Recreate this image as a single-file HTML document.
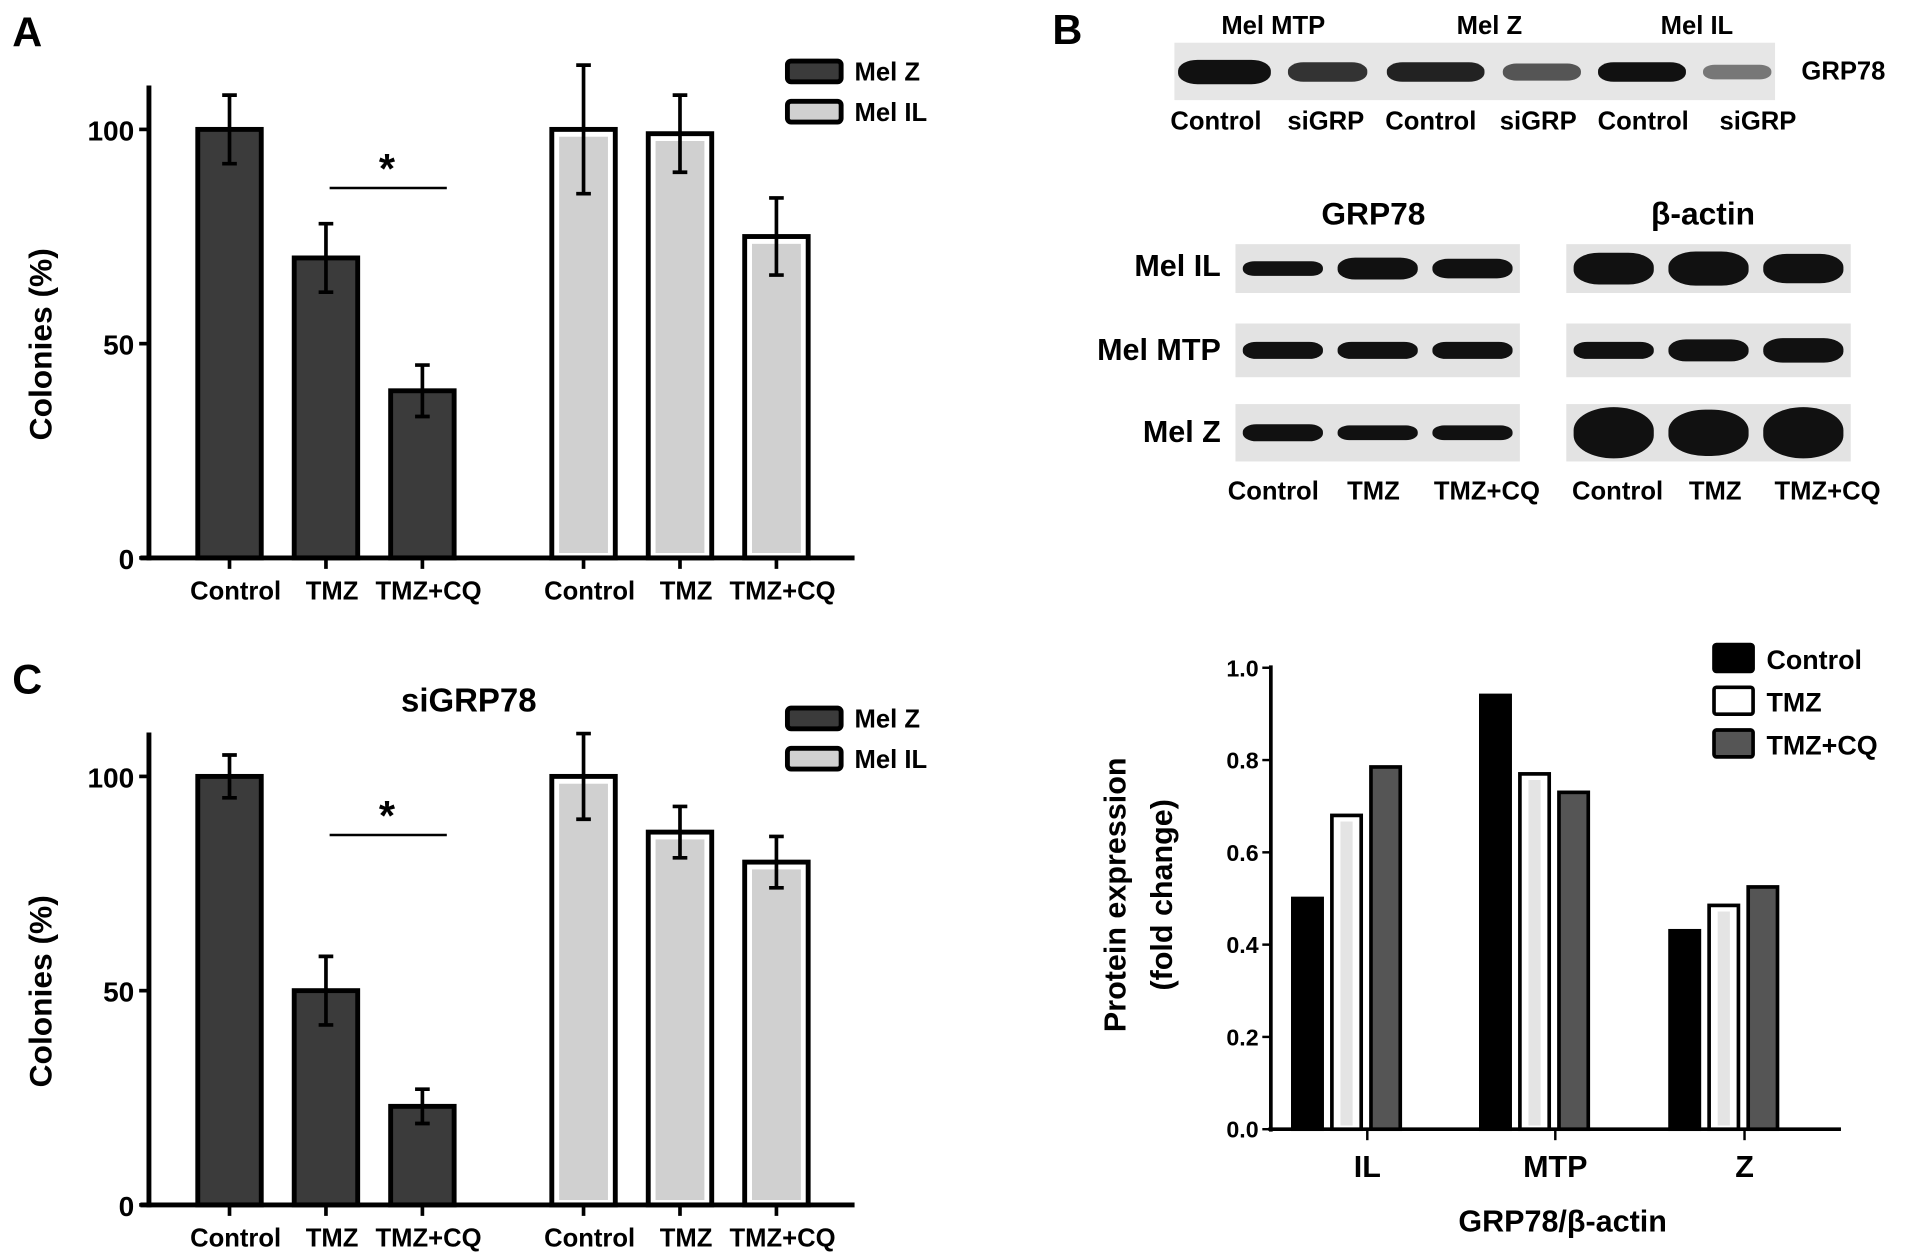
<!DOCTYPE html>
<html><head><meta charset="utf-8"><style>
html,body{margin:0;padding:0;background:#fff;}
svg{display:block;font-family:"Liberation Sans",Arial,sans-serif;font-weight:bold;}
</style></head><body>
<svg id="fig" width="1913" height="1258" viewBox="0 0 1567 1030.5" preserveAspectRatio="none" xmlns="http://www.w3.org/2000/svg">
<rect width="1567" height="1031" fill="#fff"/>
<g id="pa"></g>
<g id="pc"></g>
<g id="pb"></g>
<g id="pd"></g>
</svg>
<script>
const colonyCategories = ["Control","TMZ","TMZ+CQ"];
const aMelZ = [100,70,39];
const aMelZErr = [8,8,6];
const aMelIL = [100,99,75];
const aMelILErr = [15,9,9];
const cMelZ = [100,50,23];
const cMelZErr = [5,8,4];
const cMelIL = [100,87,80];
const cMelILErr = [10,6,6];
const colonyTicks = [0,50,100];
const dCategories = ["IL","MTP","Z"];
const dControl = [0.50,0.94,0.43];
const dTMZ = [0.68,0.77,0.485];
const dTMZCQ = [0.785,0.73,0.525];
const dTicks = ["0.0","0.2","0.4","0.6","0.8","1.0"];

const NS="http://www.w3.org/2000/svg";
function mk(parent,tag,attrs,text){const e=document.createElementNS(NS,tag);for(const k in attrs)e.setAttribute(k,attrs[k]);if(text!==undefined)e.textContent=text;parent.appendChild(e);return e;}

function colonyChart(g,oy,z,zErr,il,ilErr,letter,title){
  const y0=oy+457, scale=3.51;
  const Y=v=>y0-v*scale;
  const L=mk(g,'text',{x:10,y:oy+38,'font-size':34},letter);
  
  if(title){const t=mk(g,'text',{x:384,y:583,'font-size':27,'text-anchor':'middle'},title);
    }
  const yl=mk(g,'text',{x:0,y:0,'font-size':26,'text-anchor':'middle',transform:`translate(42,${oy+282}) rotate(-90)`},'Colonies (%)');
  
  const ax=mk(g,'line',{x1:122,y1:oy+70,x2:122,y2:y0+2,stroke:'#000','stroke-width':4});
  
  const xa=mk(g,'line',{x1:115,y1:y0,x2:700,y2:y0,stroke:'#000','stroke-width':4});
  
  colonyTicks.forEach(v=>{
    const tk=mk(g,'line',{x1:114,x2:122,y1:Y(v),y2:Y(v),stroke:'#000','stroke-width':3});
    
    const tl=mk(g,'text',{x:110,y:Y(v)+9,'font-size':23,'text-anchor':'end'},String(v));
    
  });
  const centers=[188,267,346,478,557,636], w=52;
  const vals=z.concat(il), errs=zErr.concat(ilErr);
  vals.forEach((v,i)=>{
    const cx=centers[i], dark=i<3;
    const b=mk(g,'rect',{x:cx-w/2,y:Y(v),width:w,height:y0-Y(v),fill:dark?'#3b3b3b':'#fff',stroke:'#000','stroke-width':4});
    
    
    if(!dark){const inner=mk(g,'rect',{x:cx-w/2+6,y:Y(v)+6,width:w-12,height:Math.max(0,y0-Y(v)-10),fill:'#d0d0d0'});
      }
    const e=errs[i];
    const eb=mk(g,'path',{d:`M${cx},${Y(v+e)}V${Y(v-e)}M${cx-6},${Y(v+e)}H${cx+6}M${cx-6},${Y(v-e)}H${cx+6}`,stroke:'#000','stroke-width':3,fill:'none'});
    
    const tk=mk(g,'line',{x1:cx,x2:cx,y1:y0,y2:y0+9,stroke:'#000','stroke-width':3});
    
    const tl=mk(g,'text',{x:cx+5,y:y0+34,'font-size':21,'text-anchor':'middle'},colonyCategories[i%3]);
    
  });
  const sl=mk(g,'line',{x1:270,x2:366,y1:oy+154,y2:oy+154,stroke:'#000','stroke-width':2});
  
  const st=mk(g,'text',{x:317,y:oy+150,'font-size':34,'text-anchor':'middle'},'*');
  
  [['Mel Z','#3b3b3b'],['Mel IL','#d0d0d0']].forEach((l,i)=>{
    const yy=oy+50+i*33;
    const r=mk(g,'rect',{x:645,y:yy,width:44,height:17,rx:3,fill:l[1],stroke:'#000','stroke-width':4});
    
    const t=mk(g,'text',{x:700,y:yy+16,'font-size':21},l[0]);
    
  });
}
colonyChart(document.getElementById('pa'),0,aMelZ,aMelZErr,aMelIL,aMelILErr,'A',null);
colonyChart(document.getElementById('pc'),530,cMelZ,cMelZErr,cMelIL,cMelILErr,'C','siGRP78');

// Panel B blots
(function(){
  const g=document.getElementById('pb');
  const T=(x,y,s,txt,anchor,name)=>{const t=mk(g,'text',{x:x,y:y,'font-size':s,'text-anchor':anchor||'middle'},txt);return t;};
  const band=(cx,cy,hw,hh,fill)=>{const r=mk(g,'rect',{x:cx-hw,y:cy-hh,width:2*hw,height:2*hh,rx:Math.min(hw,hh*1.6),ry:hh*0.9,fill:fill});};
  T(862,36,34,'B','start','panel-letter');
  T(1043,28,21,'Mel MTP','middle','blot-cell-label');T(1220,28,21,'Mel Z','middle','blot-cell-label');T(1390,28,21,'Mel IL','middle','blot-cell-label');
  const bg=mk(g,'rect',{x:962,y:35,width:492,height:47,fill:'#e6e6e6'});
  [[965,1041,10,'#111'],[1055,1120,8,'#333'],[1136,1216,8,'#222'],[1231,1295,7,'#555'],[1309,1381,8,'#111'],[1395,1451,6,'#777']].forEach(b=>{
    band((b[0]+b[1])/2,59,(b[1]-b[0])/2,b[2],b[3]);});
  T(1510,65,21,'GRP78','middle','blot-protein-label');
  [['Control',996],['siGRP',1086],['Control',1172],['siGRP',1260],['Control',1346],['siGRP',1440]].forEach(l=>T(l[1],106,21,l[0],'middle','lane-label'));
  T(1125,184,26,'GRP78','middle','blot-header');T(1395,184,26,'β-actin','middle','blot-header');
  const rows=[[200,240,'Mel IL',226],[265,309,'Mel MTP',295],[331,378,'Mel Z',362]];
  const grpTh=[[6,9,8],[7,7,7],[7,6,6]], actTh=[[13,14,12],[7,9,10],[21,19,21]];
  rows.forEach((r,ri)=>{
    T(1000,r[3],25,r[2],'end','blot-row-label');
    [[1012,1245,grpTh[ri]],[1283,1516,actTh[ri]]].forEach(p=>{
      const bg2=mk(g,'rect',{x:p[0],y:r[0],width:p[1]-p[0],height:r[1]-r[0],fill:'#e3e3e3'});
      const lw=(p[1]-p[0])/3;
      for(let k=0;k<3;k++){band(p[0]+lw*k+lw/2,(r[0]+r[1])/2,lw/2-6,p[2][k],'#111');}
    });
  });
  [['Control',1043],['TMZ',1125],['TMZ+CQ',1218],['Control',1325],['TMZ',1405],['TMZ+CQ',1497]].forEach(l=>T(l[1],409,21,l[0],'middle','lane-label'));
})();

// Panel D
(function(){
  const g=document.getElementById('pd');
  const y0=925, per=378;
  const Y=v=>y0-v*per;
  const ax=mk(g,'line',{x1:1041,y1:545,x2:1041,y2:y0+2,stroke:'#000','stroke-width':3});
  const xa=mk(g,'line',{x1:1039,y1:y0,x2:1508,y2:y0,stroke:'#000','stroke-width':3});
  dTicks.forEach(t=>{const v=parseFloat(t);
    const tk=mk(g,'line',{x1:1034,x2:1041,y1:Y(v),y2:Y(v),stroke:'#000','stroke-width':2});
    const tl=mk(g,'text',{x:1031,y:Y(v)+7,'font-size':19,'text-anchor':'end'},t);});
  const groupX=[1103,1257,1412], off=32, w=24;
  const series=[[dControl,'#000','control'],[dTMZ,'#fff','tmz'],[dTMZCQ,'#555','tmz-cq']];
  dCategories.forEach((c,i)=>{
    series.forEach((s,j)=>{const cx=groupX[i]+(j-1)*off, v=s[0][i];
      const b=mk(g,'rect',{x:cx-w/2,y:Y(v),width:w,height:y0-Y(v),fill:s[1],stroke:'#000','stroke-width':3});
      
      if(j==1){const inn=mk(g,'rect',{x:cx-5,y:Y(v)+5,width:10,height:Math.max(0,y0-Y(v)-8),fill:'#e4e4e4'});}
    });
    const tx=groupX[i]+17;
    const tk=mk(g,'line',{x1:tx,x2:tx,y1:y0,y2:y0+9,stroke:'#000','stroke-width':2});
    const tl=mk(g,'text',{x:tx,y:y0+39,'font-size':25,'text-anchor':'middle'},c);
  });
  const xt=mk(g,'text',{x:1280,y:1009,'font-size':25,'text-anchor':'middle'},'GRP78/β-actin');
  const yt=mk(g,'text',{x:0,y:0,'font-size':25,'text-anchor':'middle',transform:'translate(922,733) rotate(-90)'},'Protein expression');
  const yt2=mk(g,'text',{x:0,y:0,'font-size':25,'text-anchor':'middle',transform:'translate(960,733) rotate(-90)'},'(fold change)');
  [['Control','#000'],['TMZ','#fff'],['TMZ+CQ','#555']].forEach((l,i)=>{const yy=528+i*35;
    const r=mk(g,'rect',{x:1404,y:yy,width:32,height:22,rx:2,fill:l[1],stroke:'#000','stroke-width':3});
    const t=mk(g,'text',{x:1447,y:yy+20,'font-size':22},l[0]);});
})();
</script>
</body></html>
